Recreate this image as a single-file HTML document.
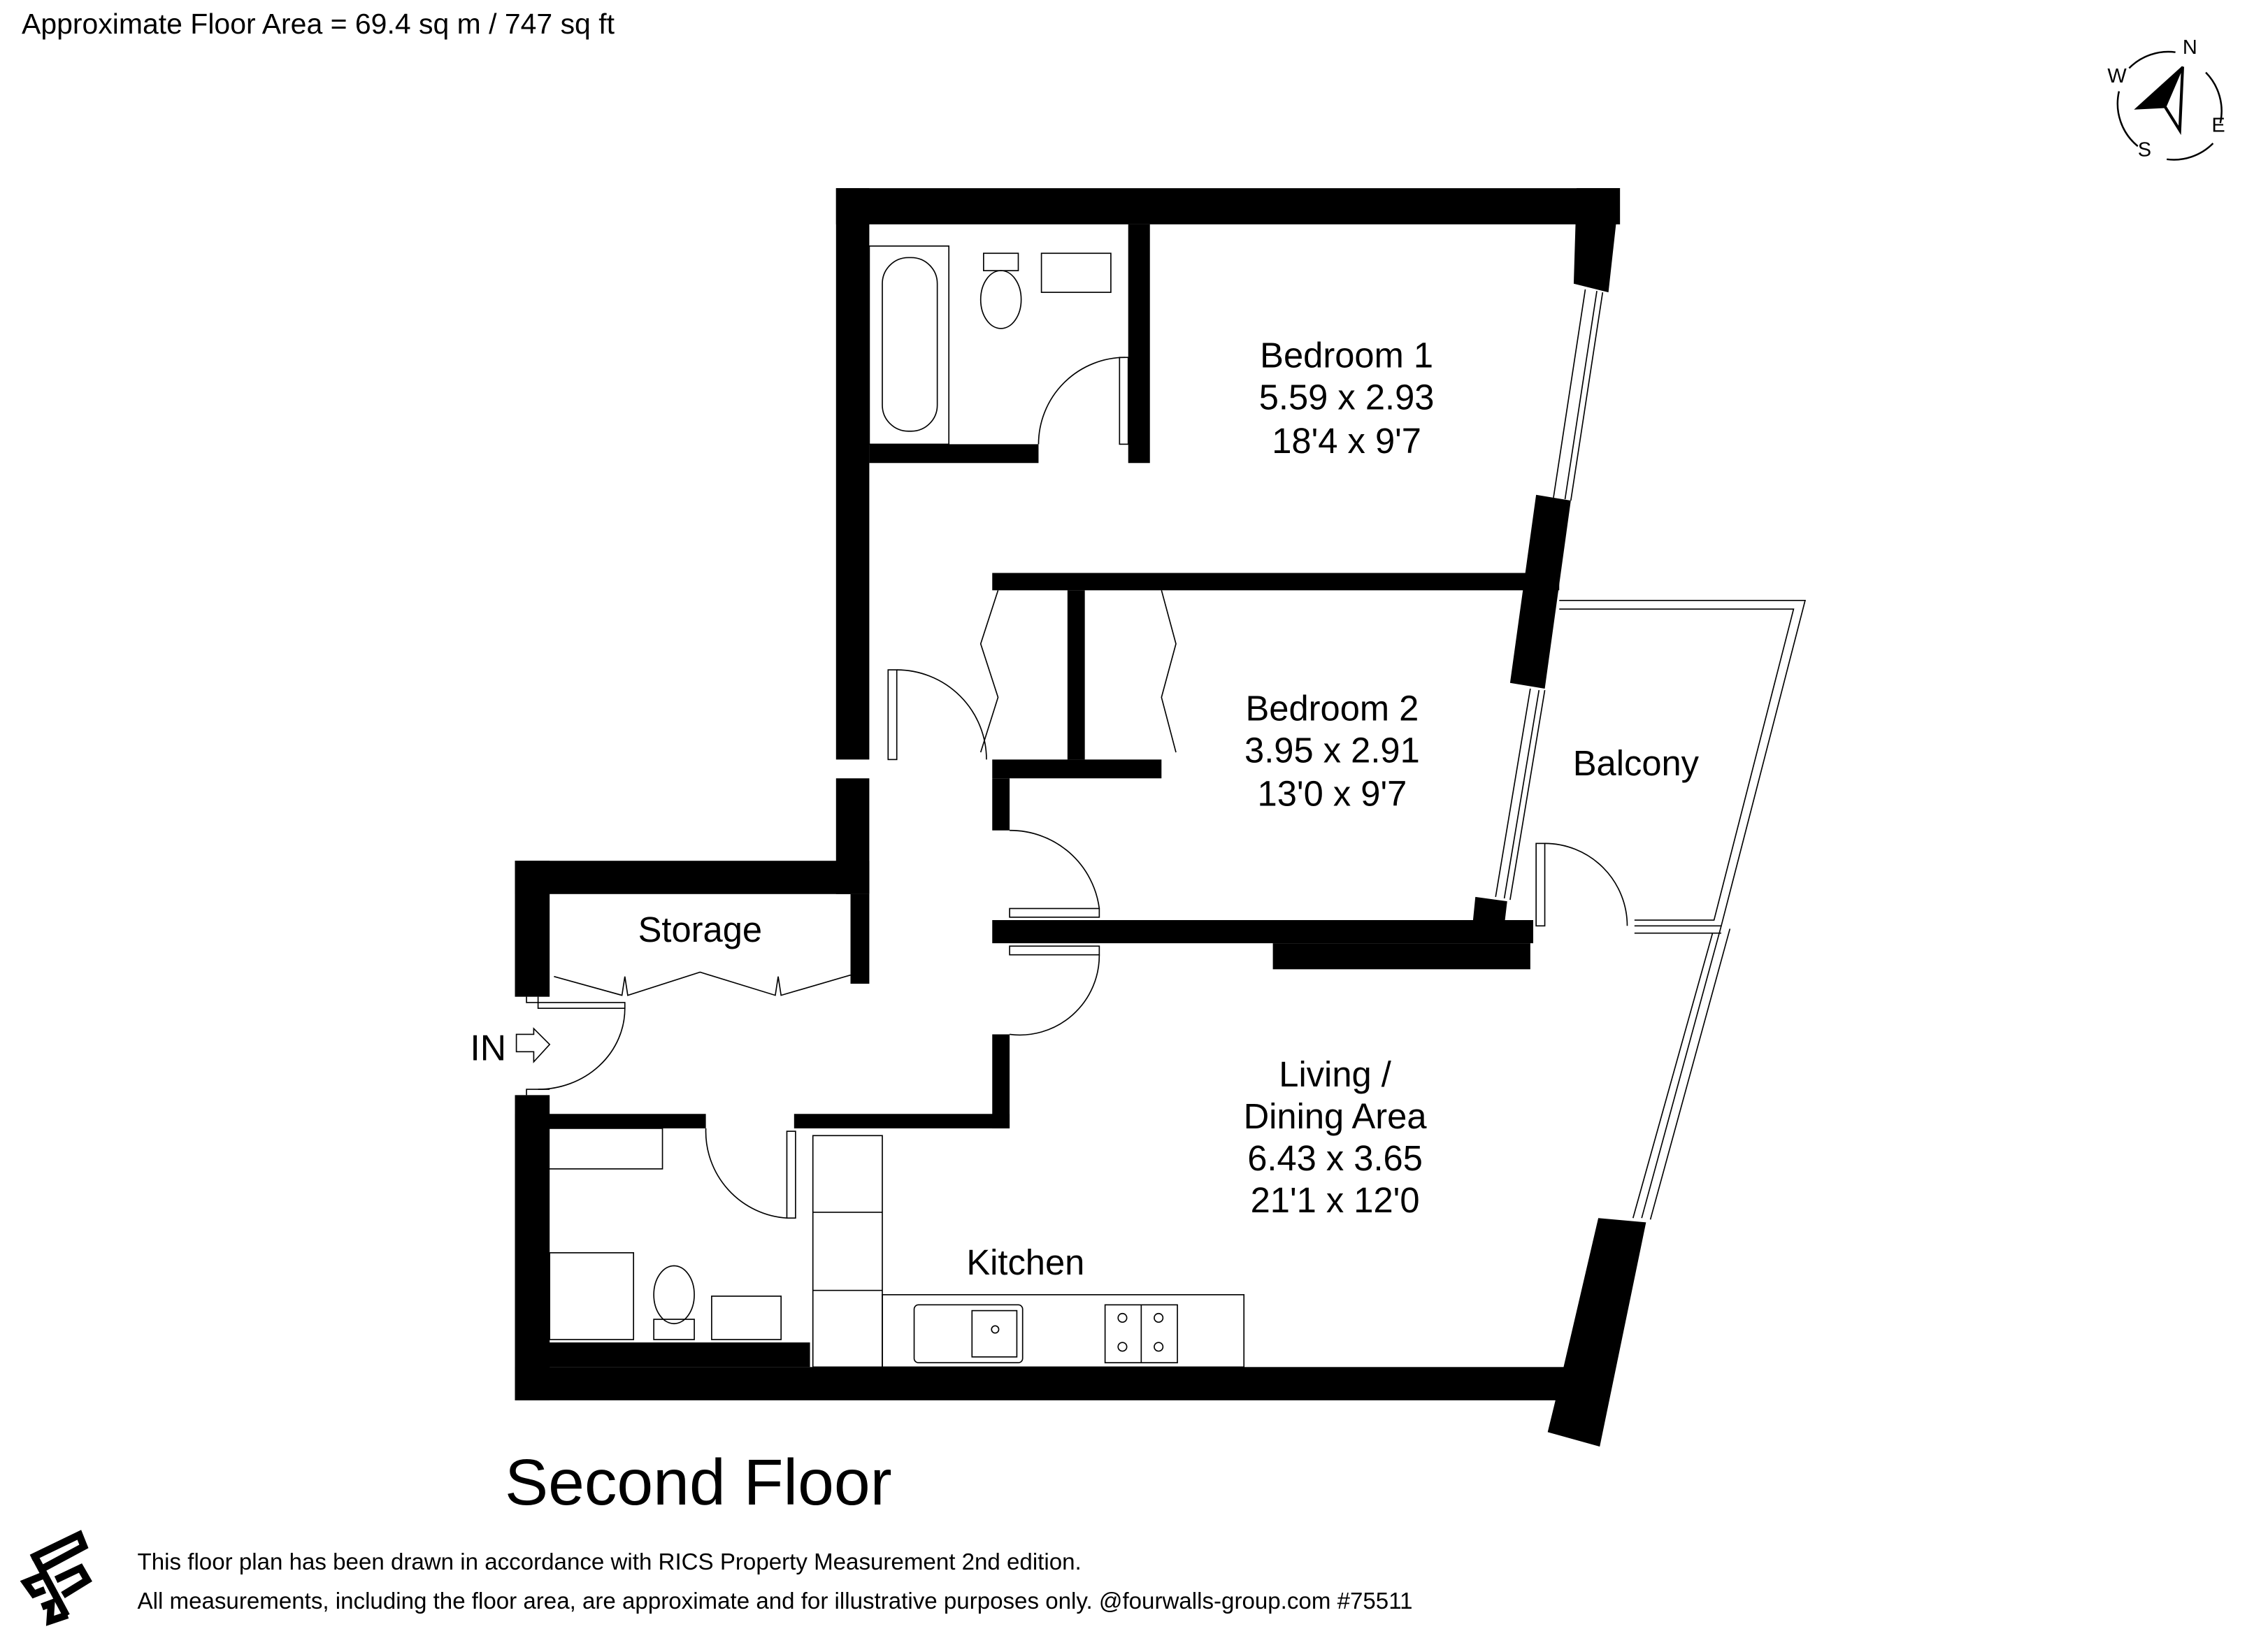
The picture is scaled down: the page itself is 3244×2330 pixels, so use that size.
<!DOCTYPE html>
<html><head><meta charset="utf-8"><style>
html,body{margin:0;padding:0;background:#fff}
svg{display:block}
text{font-family:"Liberation Sans",sans-serif;fill:#000}
</style></head><body>
<svg width="3244" height="2330" viewBox="0 0 1568 1126" xmlns="http://www.w3.org/2000/svg">
<rect width="1568" height="1126" fill="#fff"/>
<text x="15" y="23" font-size="19.8">Approximate Floor Area = 69.4 sq m / 747 sq ft</text>

<!-- compass -->
<g stroke="#000" fill="none" stroke-width="1.2">
<path d="M1472,47 A38,38 0 0 1 1504,36"/>
<path d="M1525,50 A38,38 0 0 1 1535,85"/>
<path d="M1530,99 A38,38 0 0 1 1498,110"/>
<path d="M1478,101 A38,38 0 0 1 1465,63"/>
<polygon points="1509,46 1477,75 1497,74" fill="#000"/>
<polyline points="1509,46 1507,90 1497,74" stroke-width="2"/>
</g>
<text x="1509" y="37" font-size="14">N</text>
<text x="1457" y="57" font-size="14">W</text>
<text x="1529" y="91" font-size="14">E</text>
<text x="1478" y="108" font-size="14">S</text>

<!-- walls -->
<g fill="#000">
<rect x="578" y="130" width="542" height="25"/>
<polygon points="1090,130 1120,130 1112,202 1088,196"/>
<polygon points="1062,342 1086,346 1068,476 1044,472"/>
<polygon points="1020,620 1042,623 1040,640 1018,640"/>
<rect x="578" y="130" width="23" height="395"/>
<rect x="578" y="538" width="23" height="80"/>
<rect x="780" y="155" width="15" height="165"/>
<rect x="601" y="307" width="117" height="13"/>
<rect x="686" y="396" width="392" height="12"/>
<rect x="738" y="408" width="12" height="117"/>
<rect x="686" y="525" width="117" height="13"/>
<rect x="686" y="538" width="12" height="36"/>
<rect x="686" y="636" width="374" height="16"/>
<rect x="880" y="652" width="178" height="18"/>
<rect x="686" y="715" width="12" height="65"/>
<rect x="549" y="770" width="149" height="10"/>
<rect x="356" y="770" width="132" height="10"/>
<rect x="356" y="595" width="245" height="23"/>
<rect x="588" y="618" width="13" height="62"/>
<rect x="356" y="595" width="24" height="94"/>
<rect x="356" y="757" width="24" height="211"/>
<rect x="378" y="928" width="182" height="17"/>
<rect x="356" y="945" width="727" height="23"/>
<polygon points="1105,842 1138,845 1106,1000 1070,990 1081,945"/>
</g>

<!-- windows / thin lines -->
<g stroke="#000" stroke-width="0.8" fill="none">
<line x1="1096" y1="200" x2="1074" y2="344"/>
<line x1="1104" y1="201" x2="1082" y2="345"/>
<line x1="1108" y1="202" x2="1086" y2="346"/>
<line x1="1058" y1="476" x2="1034" y2="620"/>
<line x1="1064" y1="477" x2="1040" y2="621"/>
<line x1="1068" y1="477" x2="1044" y2="622"/>
<!-- balcony -->
<polyline points="1078,415 1248,415 1190,640 1130,640"/>
<polyline points="1078,421 1240,421 1185,636 1130,636"/>
<line x1="1130" y1="645" x2="1190" y2="645"/>
<line x1="1190" y1="640" x2="1135" y2="842"/>
<line x1="1196" y1="642" x2="1141" y2="843"/>
<line x1="1184" y1="645" x2="1129" y2="842"/>
<!-- balcony door -->
<rect x="1062" y="583" width="6" height="57"/>
<path d="M1068,583 A57,57 0 0 1 1125,640"/>
<!-- bathroom 1 -->
<rect x="601" y="170" width="55" height="137"/>
<rect x="610" y="178" width="38" height="120" rx="18"/>
<ellipse cx="692" cy="207" rx="14" ry="20"/>
<rect x="680" y="175" width="24" height="12"/>
<rect x="720" y="175" width="48" height="27"/>
<path d="M718,307 A60,60 0 0 1 778,247"/>
<rect x="774" y="247" width="6" height="60"/>
<!-- wardrobes -->
<polyline points="690,408 678,445 690,482 678,520"/>
<polyline points="803,408 813,445 803,482 813,520"/>
<!-- bedroom2 door -->
<rect x="614" y="463" width="6" height="62"/>
<path d="M620,463 A62,62 0 0 1 682,525"/>
<!-- living doors -->
<rect x="698" y="628" width="62" height="6"/>
<path d="M698,574 A62,62 0 0 1 760,628"/>
<rect x="698" y="654" width="62" height="6"/>
<path d="M760,660 A55,55 0 0 1 698,715"/>
<!-- storage doors -->
<polyline points="383,675 430,688 432,675 434,688 484,672 536,688 538,675 540,688 588,674"/>
<!-- entry door -->
<path d="M364,689 L364,693 L432,693 L432,697 L372,697 L372,689"/>
<path d="M432,697 A60,56 0 0 1 372,753"/>
<path d="M364,757 L364,753 L380,753"/>
<polygon points="357,715 369,715 369,711 380,722 369,734 369,727 357,727 357,715"/>
<!-- bathroom 2 -->
<rect x="378" y="780" width="80" height="28"/>
<rect x="380" y="866" width="58" height="60"/>
<ellipse cx="466" cy="895" rx="14" ry="20"/>
<rect x="452" y="912" width="28" height="14"/>
<rect x="492" y="896" width="48" height="30"/>
<path d="M488,780 A60,60 0 0 0 544,842"/>
<rect x="544" y="782" width="6" height="60"/>
<!-- kitchen -->
<rect x="562" y="785" width="48" height="160"/>
<line x1="562" y1="838" x2="610" y2="838"/>
<line x1="562" y1="892" x2="610" y2="892"/>
<rect x="610" y="895" width="250" height="50"/>
<rect x="632" y="902" width="75" height="40" rx="3"/>
<rect x="672" y="906" width="31" height="32"/>
<circle cx="688" cy="919" r="2.5"/>
<rect x="764" y="902" width="50" height="40"/>
<line x1="789" y1="902" x2="789" y2="942"/>
<circle cx="776" cy="911" r="3"/><circle cx="801" cy="911" r="3"/>
<circle cx="776" cy="931" r="3"/><circle cx="801" cy="931" r="3"/>
</g>
<g font-size="24.5" text-anchor="middle">
<text x="484" y="651">Storage</text>
<text x="931" y="254">Bedroom 1</text>
<text x="931" y="283">5.59 x 2.93</text>
<text x="931" y="313">18'4 x 9'7</text>
<text x="921" y="498">Bedroom 2</text>
<text x="921" y="527">3.95 x 2.91</text>
<text x="921" y="557">13'0 x 9'7</text>
<text x="1131" y="536">Balcony</text>
<text x="923" y="751">Living /</text>
<text x="923" y="780">Dining Area</text>
<text x="923" y="809">6.43 x 3.65</text>
<text x="923" y="838">21'1 x 12'0</text>
<text x="709" y="881">Kitchen</text>
</g>
<text x="325" y="733" font-size="25">IN</text>
<text x="349" y="1040" font-size="45">Second Floor</text>
<!-- logo -->
<g stroke="#000" stroke-width="5" fill="none" stroke-linejoin="miter">
<path d="M21.7,1077 L54.8,1061 L58,1069 L30,1084"/>
<path d="M24,1076 L46,1117"/>
<path d="M38.7,1092 L55.6,1084 L60.4,1092.3 L43.5,1102.7"/>
<path d="M30,1089 L17.7,1094 L23.4,1102 L31,1099"/>
<path d="M29,1110.8 L35.4,1108.4 L34.6,1120.5 L46.7,1116.4"/>
</g>
<text x="95" y="1085" font-size="16">This floor plan has been drawn in accordance with RICS Property Measurement 2nd edition.</text>
<text x="95" y="1112" font-size="16">All measurements, including the floor area, are approximate and for illustrative purposes only. @fourwalls-group.com #75511</text>
</svg>
</body></html>
